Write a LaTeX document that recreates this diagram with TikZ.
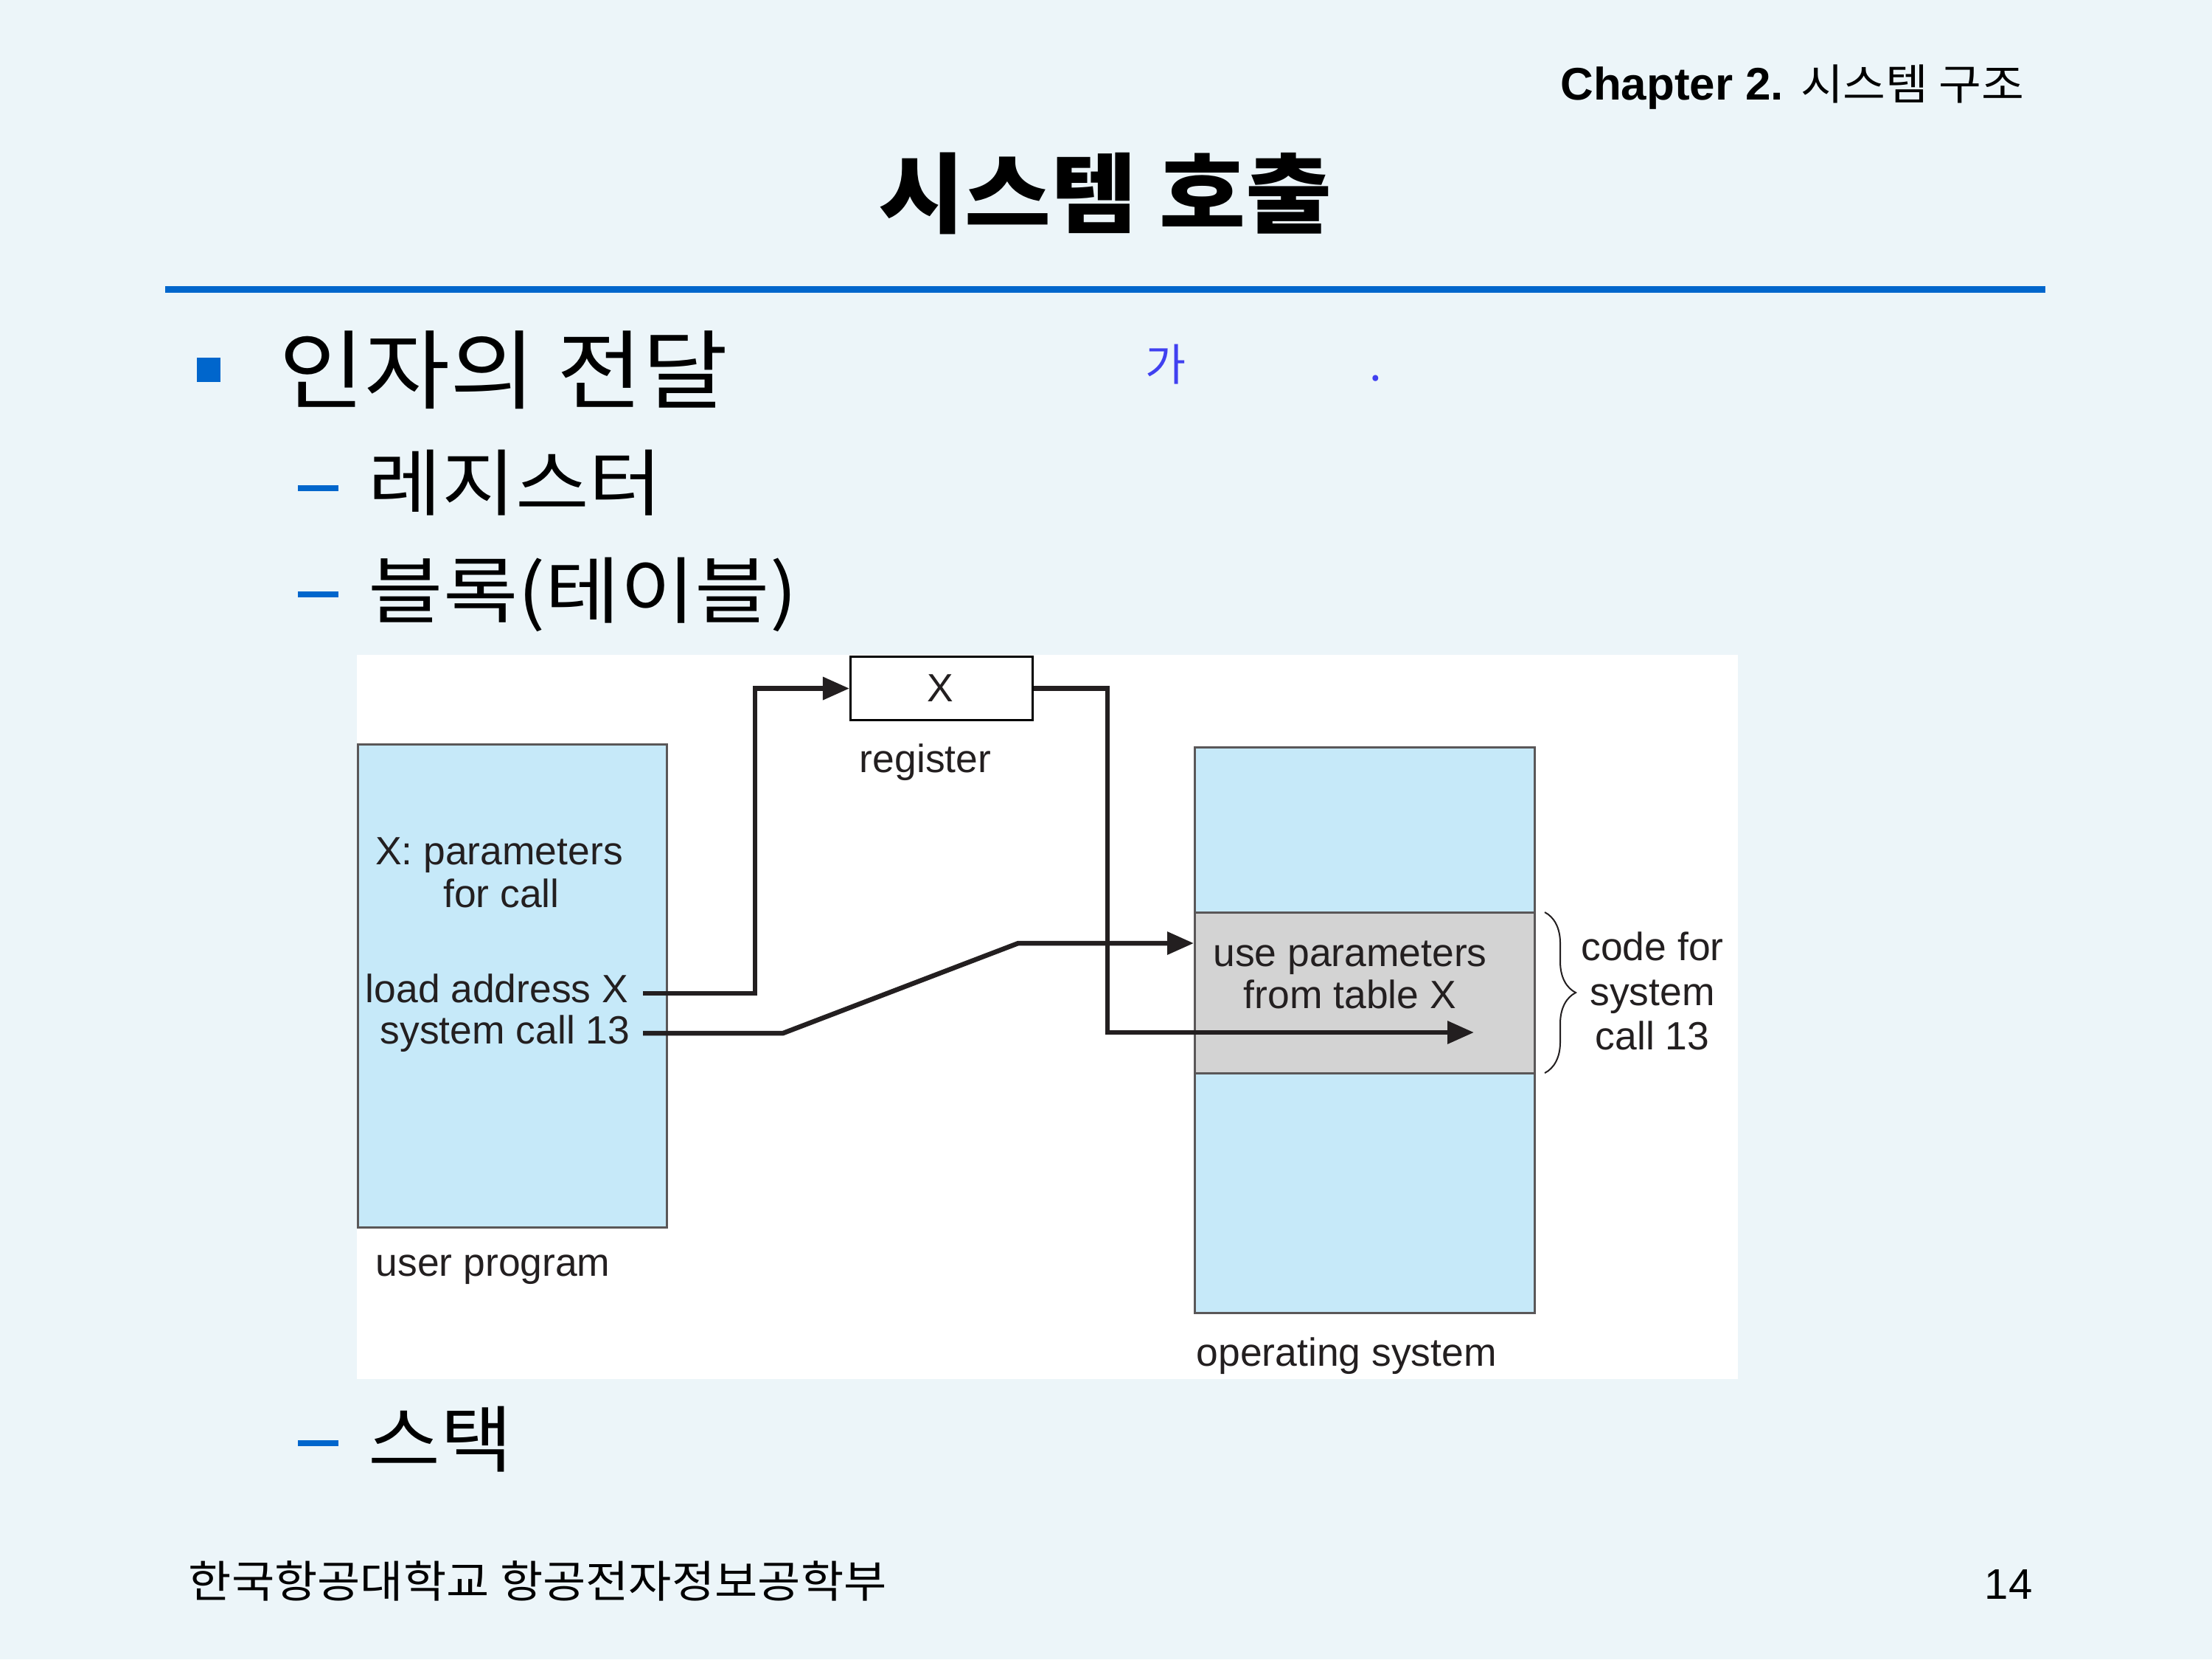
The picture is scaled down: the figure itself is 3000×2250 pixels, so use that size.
\documentclass[tikz,border=0pt]{standalone}
\usepackage{graphicx}
\usepackage{fontspec}
\setmainfont{Liberation Sans}
\newfontfamily\krfont{Noto Sans CJK KR}
\usetikzlibrary{arrows.meta,decorations.pathreplacing}

\definecolor{slidebg}{RGB}{236,245,249}
\definecolor{accent}{RGB}{0,102,204}
\definecolor{memblue}{RGB}{198,233,249}
\definecolor{codegray}{RGB}{211,211,211}
\definecolor{inkdark}{RGB}{35,31,32}
\definecolor{notecol}{RGB}{64,64,240}

% Korean text at a given size, widened horizontally by a given factor
\newcommand{\krtext}[3]{\scalebox{#2}[1]{\krfont\fontsize{#1}{#1}\selectfont #3}}

\begin{document}
\begin{tikzpicture}[x=0.01cm,y=-0.01cm,
  lbl/.style={inner sep=0pt, text=inkdark, font=\fontsize{15.2}{18}\selectfont},
  kr/.style={inner sep=0pt, anchor=west},
  membox/.style={draw=inkdark!75, line width=0.025cm, fill=memblue, inner sep=0pt, anchor=north west},
  conn/.style={line width=0.065cm, draw=inkdark, line join=miter},
  arrowed/.style={-{Triangle[length=0.36cm,width=0.3cm]}},
  dashmark/.style={fill=accent}
]
% slide background
\fill[slidebg] (0,0) rectangle (3000,2250);
\useasboundingbox (0,0) rectangle (3000,2250);

% header and title
\node[anchor=base east, inner sep=0pt] (chap) at (2746,135)
  {{\bfseries\fontsize{17.6}{20}\selectfont Chapter 2. }\krtext{16.4}{1.09}{시스템 구조}};
\node[inner sep=0pt] (title) at (1499,262)
  {\scalebox{1.08}[1]{\krfont\bfseries\fontsize{33.5}{40}\selectfont 시스템 호출}};
\coordinate (ruleL) at (224,392);
\coordinate (ruleR) at (2774,392);
\draw[accent, line width=0.09cm] (ruleL) -- (ruleR);

% bullet list
\fill[accent] (267,485) rectangle (299,518);
\node[kr] (b1) at (378,502) {\krtext{33.3}{1.078}{인자의 전달}};
\node[anchor=base, inner sep=0pt, text=notecol] (n1) at (1581,516) {\krfont\fontsize{17}{20}\selectfont 가};
\node[anchor=base, inner sep=0pt, text=notecol] (n2) at (1866,516) {\krfont\fontsize{17}{20}\selectfont .};

\fill[dashmark] (404,658) rectangle (459,666);
\node[kr] (s1) at (499,655) {\krtext{28}{1.10}{레지스터}};
\fill[dashmark] (404,802) rectangle (459,810);
\node[kr] (s2) at (499,806) {\krtext{28}{1.12}{블록(테이블)}};
\fill[dashmark] (404,1953) rectangle (459,1961);
\node[kr] (s3) at (499,1952) {\krtext{28}{1.08}{스택}};

% footer
\node[kr] (foot) at (255,2144) {\krtext{17}{1.06}{한국항공대학교 항공전자정보공학부}};
\node[anchor=base east, inner sep=0pt] (page) at (2757,2168) {\fontsize{16.5}{20}\selectfont 14};

% figure panel
\fill[white] (484,888) rectangle (2357,1870);

% memory blocks
\node[membox, minimum width=4.19cm, minimum height=6.55cm] (up) at (484,1008) {};
\node[membox, minimum width=4.61cm, minimum height=7.67cm] (os) at (1619,1012) {};
\node[membox, fill=codegray, minimum width=4.61cm, minimum height=2.18cm] (band) at (1619,1236) {};
\node[draw=black, line width=0.03cm, fill=white, anchor=north west, inner sep=0pt,
      minimum width=2.47cm, minimum height=0.86cm] (reg) at (1152,889) {};

% labels
\node[lbl] (regx) at (1275,933) {X};
\node[lbl, anchor=base] (regl) at (1255,1047) {register};
\node[lbl, anchor=base] (p1) at (677,1172) {X: parameters};
\node[lbl, anchor=base] (p2) at (680,1230) {for call};
\node[lbl, anchor=base east] (ld) at (853,1359) {load address X};
\node[lbl, anchor=base east] (sc) at (855,1415) {system call 13};
\node[lbl, anchor=base west] (upl) at (509,1730) {user program};
\node[lbl, anchor=base] (u1) at (1831,1310) {use parameters};
\node[lbl, anchor=base] (u2) at (1831,1367) {from table X};
\node[lbl, anchor=base] (c1) at (2241,1302) {code for};
\node[lbl, anchor=base] (c2) at (2241,1363) {system};
\node[lbl, anchor=base] (c3) at (2241,1423) {call 13};
\node[lbl, anchor=base west] (osl) at (1622,1852) {operating system};

% brace marking the system call code
\coordinate (brT) at (2095,1237);
\coordinate (brB) at (2095,1455);
\draw[inkdark, line width=0.02cm, decorate, decoration={brace, amplitude=0.42cm}] (brT) -- (brB);

% connectors
\coordinate (ldA) at (872,1347);
\coordinate (sysA) at (872,1401);
\coordinate (k1) at (1062,1401);
\coordinate (k2) at (1381,1279);
\coordinate (bendB) at (1502,1400);
\coordinate (tipB) at (1999,1400);
\draw[conn, arrowed] (ldA) -- ++(152,0) |- (reg.west);
\draw[conn, arrowed] (reg.east) -| (bendB) -- (tipB);
\draw[conn, arrowed] (sysA) -- (k1) -- (k2) -- (k2 -| band.west);
\end{tikzpicture}
\end{document}
